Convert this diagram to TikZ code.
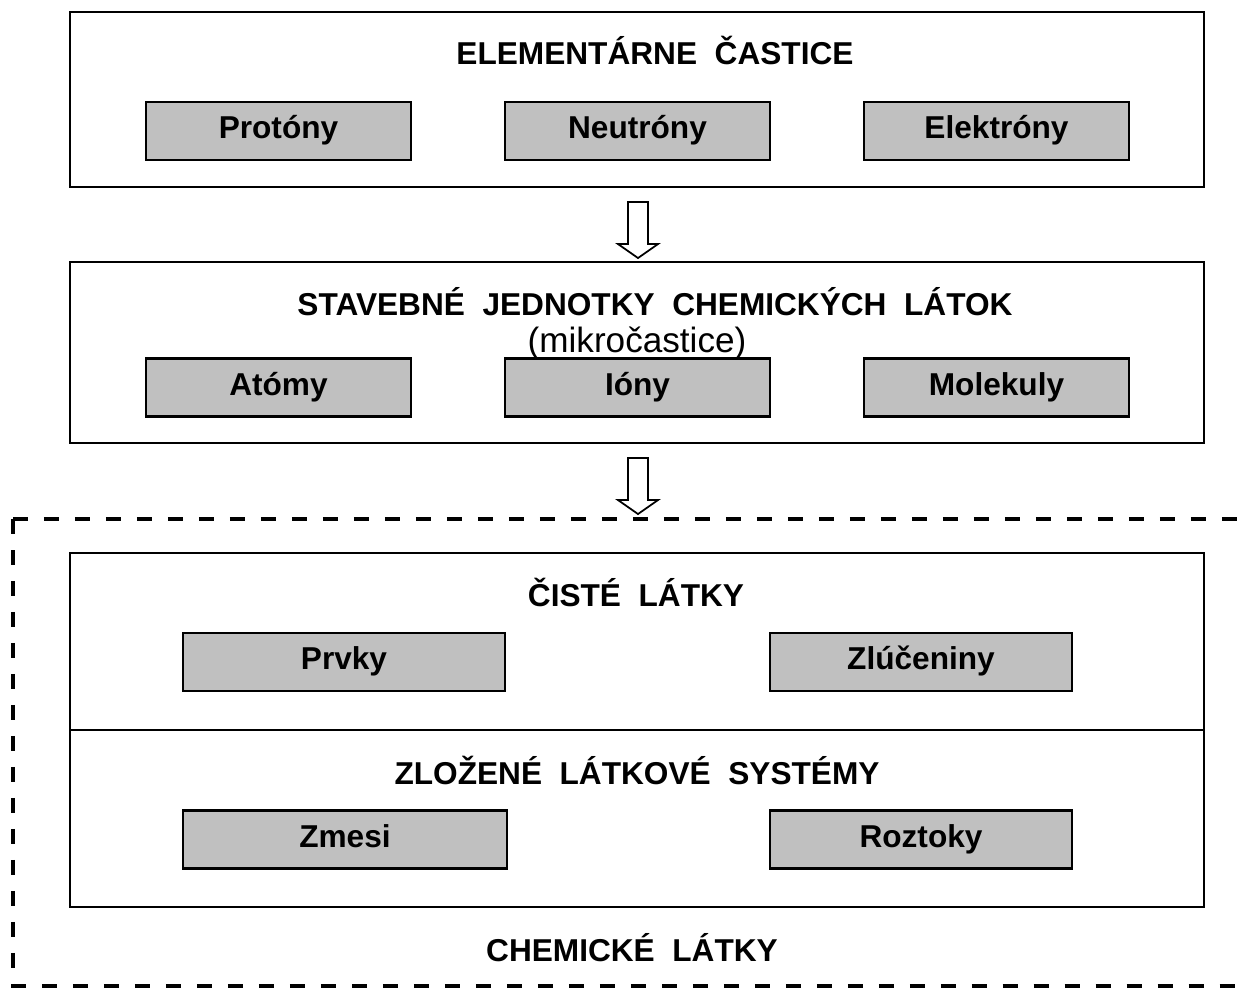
\documentclass[tikz,border=0pt]{standalone}
\usepackage{fontspec}
\setmainfont{Liberation Sans}
\usetikzlibrary{positioning,calc}
\definecolor{BoxGray}{RGB}{192,192,192}

\begin{document}
\begin{tikzpicture}[x=0.02cm,y=-0.02cm,
    frame/.style={draw,line width=1.2pt,minimum width=22.68cm,inner sep=0pt},
    item/.style={draw,fill=BoxGray,line width=1.4pt,minimum height=1.16cm,
                 inner sep=0pt,text height=13pt,text depth=4pt,
                 font=\fontsize{18}{21}\selectfont\bfseries},
    title/.style={font=\fontsize{18}{21}\selectfont\bfseries,inner sep=0pt,anchor=base},
    hollow/.style={draw,line width=1pt,fill=white,line join=miter},
    groupline/.style={line width=2.8pt,dash pattern=on 0.3cm off 0.32cm}
  ]
  \useasboundingbox (0,0) rectangle (1245,988);

  % elementarne castice
  \node[frame,minimum height=3.5cm] (elem) at (637,99.5) {};
  \node[title] (elemt) at (655,64) {ELEMENTÁRNE\ \ ČASTICE};
  \node[item,minimum width=5.3cm] (proton) at (278.5,131) {Protóny};
  \node[item,minimum width=5.3cm] (neutron) at (637.5,131) {Neutróny};
  \node[item,minimum width=5.3cm] (electron) at (996.5,131) {Elektróny};

  % stavebne jednotky
  \node[frame,minimum height=3.62cm] (stav) at (637,352.5) {};
  \node[title] (stavt) at (655,315.5) {STAVEBNÉ\ \ JEDNOTKY\ \ CHEMICKÝCH\ \ LÁTOK};
  \node[title,font=\fontsize{20}{23}\selectfont] (micro) at (637,352) {(mikročastice)};
  \node[item,minimum width=5.3cm] (atom) at (278.5,387.5) {Atómy};
  \node[item,minimum width=5.3cm] (ion) at (637.5,387.5) {Ióny};
  \node[item,minimum width=5.3cm] (molecule) at (996.5,387.5) {Molekuly};

  % chemicke latky
  \node[frame,minimum height=3.54cm] (pure) at (637,641.5) {};
  \node[frame,minimum height=3.54cm] (mixed) at (637,818.5) {};
  \node[title] (puret) at (636,606.5) {ČISTÉ\ \ LÁTKY};
  \node[item,minimum width=6.44cm] (element) at (344,662) {Prvky};
  \node[item,minimum width=6.04cm] (compound) at (921,662) {Zlúčeniny};
  \node[title] (mixedt) at (637,784.5) {ZLOŽENÉ\ \ LÁTKOVÉ\ \ SYSTÉMY};
  \node[item,minimum width=6.48cm] (mixture) at (345,839.5) {Zmesi};
  \node[item,minimum width=6.04cm] (solution) at (921,839.5) {Roztoky};
  \node[title] (chemt) at (632,961.5) {CHEMICKÉ\ \ LÁTKY};

  % arrows
  \draw[hollow] ($(elem.south)+(-9,14)$) -- ++(0,42) -- ++(-10,0) -- ++(20,14)
    -- ++(20,-14) -- ++(-10,0) -- ++(0,-42) -- cycle;
  \draw[hollow] ($(stav.south)+(-9,14)$) -- ++(0,42) -- ++(-10,0) -- ++(20,14)
    -- ++(20,-14) -- ++(-10,0) -- ++(0,-42) -- cycle;

  % dashed group
  \coordinate (gtl) at (13,519);
  \coordinate (gtr) at (1260,519);
  \coordinate (gbl) at (13,986);
  \coordinate (gbr) at (1260,986);
  \draw[groupline] (gtl) -- (gtr);
  \draw[groupline] (gtl) -- (gbl) -- (gbr);
\end{tikzpicture}
\end{document}
